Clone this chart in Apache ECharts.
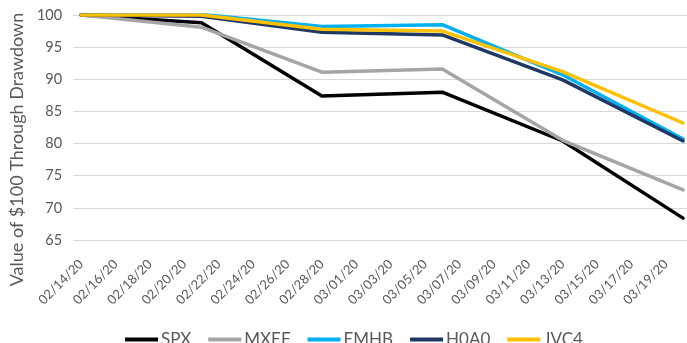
<!DOCTYPE html>
<html><head><meta charset="utf-8">
<script src="https://cdn.jsdelivr.net/npm/echarts@6/dist/echarts.min.js"></script>
<style>html,body{margin:0;padding:0;background:#fff}#c{width:687px;height:343px}</style>
</head><body><div id="c"></div>
<script>
const pointDates = ['2020-02-14','2020-02-21','2020-02-28','2020-03-06','2020-03-13','2020-03-20'];
const seriesNames = ['SPX','MXEF','EMHB','H0A0','JVC4'];
const SPX  = [100, 98.8, 87.4, 88.0, 80.4, 68.4];
const MXEF = [100, 98.1, 91.1, 91.6, 80.5, 72.8];
const EMHB = [100, 100.1, 98.2, 98.5, 90.7, 80.7];
const H0A0 = [100, 99.8, 97.3, 96.9, 89.9, 80.4];
const JVC4 = [100, 100, 97.8, 97.5, 91.2, 83.2];
const colors = ['#000000','#A5A5A5','#00B0F0','#1F3864','#FFC000'];
const startDate = '2020-02-14';
const tickStepDays = 2;
const lastLabelDay = 34;

const DAY = 86400000;
const t0 = Date.parse(startDate + 'T00:00:00Z');
const dayOf = s => Math.round((Date.parse(s + 'T00:00:00Z') - t0) / DAY);
const fmt = d => { const dt = new Date(t0 + d * DAY); const p = n => String(n).padStart(2,'0');
  return p(dt.getUTCMonth()+1) + '/' + p(dt.getUTCDate()) + '/' + String(dt.getUTCFullYear()).slice(2); };
const labelDays = []; for (let d = 0; d <= lastLabelDay; d += tickStepDays) labelDays.push(d);
const allVals = [SPX, MXEF, EMHB, H0A0, JVC4];

const chart = echarts.init(document.getElementById('c'), null, {renderer:'canvas'});
const font = 'Lato, "Liberation Sans", sans-serif';
chart.setOption({
  animation: false,
  textStyle: {fontFamily: font},
  grid: {left: 73, right: 0, top: 15, bottom: 103, containLabel: false},
  legend: {
    top: 326, left: 120, itemWidth: 33, itemHeight: 4, itemGap: 17,
    icon: 'rect',
    textStyle: {fontSize: 17, color: '#595959', fontFamily: font, padding: [0,0,0,-2]},
    data: seriesNames
  },
  xAxis: {
    type: 'value', min: -0.465, max: 35.23,
    axisLine: {show: false}, axisTick: {show: false}, splitLine: {show: false},
    axisLabel: {
      customValues: labelDays, rotate: 45, fontSize: 13, color: '#595959', margin: 22,
      fontFamily: font, formatter: v => fmt(v)
    }
  },
  yAxis: {
    type: 'value', min: 65, max: 100, interval: 5,
    name: 'Value of $100 Through Drawdown', nameLocation: 'middle', nameGap: 47,
    nameTextStyle: {fontSize: 18, color: '#595959', fontFamily: font, padding: [0, 44, 0, 0]},
    axisLine: {show: false}, axisTick: {show: false},
    axisLabel: {fontSize: 14.5, color: '#595959', margin: 11, fontFamily: font},
    splitLine: {lineStyle: {color: '#D9D9D9', width: 1}}
  },
  series: seriesNames.map((n, i) => ({
    name: n, type: 'line', symbol: 'none', color: colors[i],
    lineStyle: {width: 3.5, color: colors[i], join: 'round', cap: 'round'},
    data: pointDates.map((d, k) => [dayOf(d), allVals[i][k]])
  }))
});
</script></body></html>
